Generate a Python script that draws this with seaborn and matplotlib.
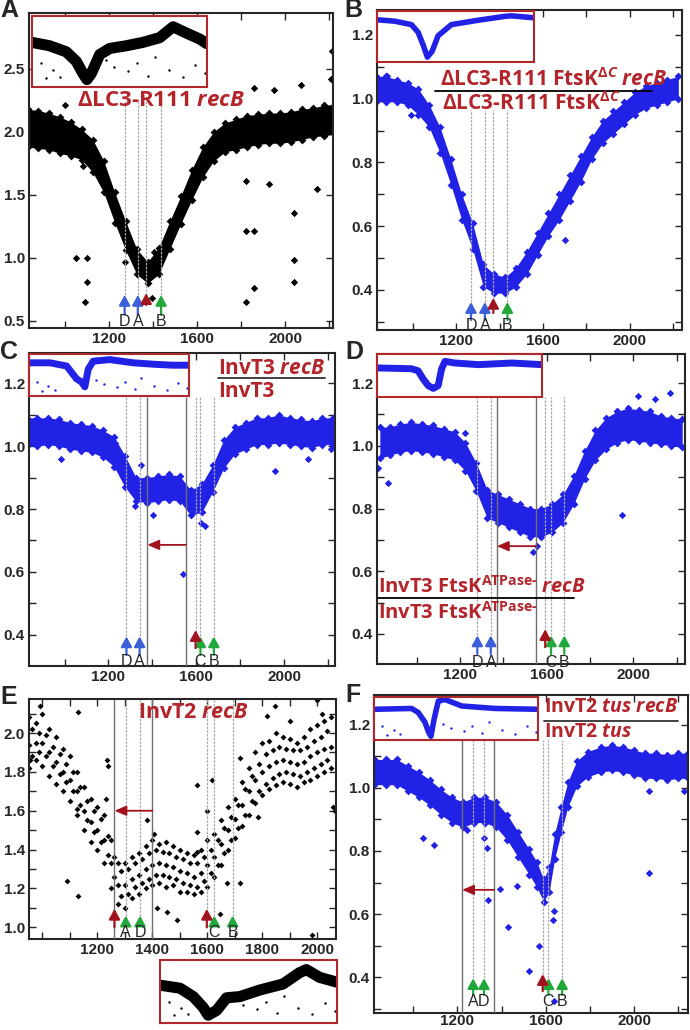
# draws the six recB marker-frequency panels (A-F) and their genome insets

# importing libraries
import matplotlib
matplotlib.use('Agg')
import matplotlib.pyplot as plt
from matplotlib.ticker import MultipleLocator
import seaborn as sns

# ---------------- data ----------------
# shared position grid (kb) for panels A-D
pos_kb = [830, 875, 925, 975, 1025, 1075, 1125, 1175, 1225, 1275, 1325, 1375, 1425, 1475, 1525,
          1575, 1625, 1675, 1725, 1775, 1825, 1875, 1925, 1975, 2025, 2075, 2125, 2175, 2225]

# A: dLC3-R111 recB (upper / lower edge of the dense band)
a_hi = [2.18, 2.17, 2.15, 2.12, 2.08, 2.02, 1.94, 1.77, 1.52, 1.29, 1.07, 0.97, 1.08, 1.29, 1.49,
        1.70, 1.88, 2.00, 2.07, 2.10, 2.13, 2.14, 2.15, 2.15, 2.16, 2.18, 2.19, 2.21, 2.22]
a_lo = [1.88, 1.87, 1.86, 1.83, 1.81, 1.78, 1.68, 1.52, 1.28, 1.06, 0.87, 0.80, 0.87, 1.07, 1.27,
        1.46, 1.64, 1.77, 1.84, 1.86, 1.88, 1.90, 1.91, 1.91, 1.92, 1.94, 1.96, 1.97, 1.98]
a_out_x = [1050, 1098, 1098, 1092, 1823, 1823, 1857, 1857, 1820, 1925, 2042, 2042, 2042, 2147,
           2212, 1857, 1948, 2072, 2210, 1270, 1405, 1395, 1000, 1080]
a_out_y = [1.0, 1.0, 0.81, 0.65, 1.61, 1.21, 1.21, 0.76, 0.65, 1.59, 1.36, 0.98, 0.81, 1.55,
           2.64, 2.35, 2.33, 2.37, 2.42, 0.97, 1.05, 0.68, 2.21, 1.73]

# B: dLC3-R111 FtsKdC recB / dLC3-R111 FtsKdC
b_hi = [1.07, 1.07, 1.06, 1.05, 1.03, 0.98, 0.91, 0.81, 0.70, 0.61, 0.48, 0.45, 0.44, 0.47, 0.52,
        0.58, 0.64, 0.70, 0.76, 0.82, 0.88, 0.93, 0.96, 0.99, 1.02, 1.04, 1.05, 1.06, 1.07]
b_lo = [0.99, 0.99, 0.99, 0.98, 0.95, 0.91, 0.83, 0.73, 0.62, 0.53, 0.41, 0.39, 0.39, 0.41, 0.45,
        0.51, 0.57, 0.62, 0.68, 0.74, 0.81, 0.86, 0.89, 0.92, 0.95, 0.97, 0.98, 0.99, 1.00]
b_out_x = [1702, 1330, 990, 880]
b_out_y = [0.557, 0.46, 0.95, 1.07]

# C: InvT3 recB / InvT3
c_hi = [1.09, 1.09, 1.09, 1.085, 1.075, 1.07, 1.065, 1.05, 1.03, 0.97, 0.90, 0.90, 0.905, 0.91, 0.905,
        0.86, 0.88, 0.94, 1.02, 1.06, 1.075, 1.09, 1.09, 1.10, 1.09, 1.085, 1.08, 1.09, 1.09]
c_lo = [1.00, 1.00, 1.005, 1.00, 0.99, 0.985, 0.98, 0.965, 0.935, 0.87, 0.825, 0.82, 0.825, 0.83, 0.825,
        0.78, 0.79, 0.855, 0.93, 0.975, 0.99, 1.005, 1.005, 1.01, 1.005, 1.00, 0.995, 1.005, 1.005]
c_out_x = [984, 1349, 1319, 1402, 1539, 1623, 1638, 1957, 2109, 2216, 1230]
c_out_y = [0.96, 0.94, 0.81, 0.78, 0.594, 0.755, 0.745, 0.92, 0.96, 0.99, 1.01]

# D: InvT3 FtsK ATPase- recB / InvT3 FtsK ATPase-
d_hi = [1.06, 1.06, 1.07, 1.075, 1.07, 1.065, 1.055, 1.045, 1.01, 0.945, 0.86, 0.845, 0.83, 0.815, 0.80,
        0.80, 0.815, 0.845, 0.905, 0.985, 1.05, 1.09, 1.11, 1.12, 1.115, 1.11, 1.095, 1.09, 1.085]
d_lo = [0.96, 0.97, 0.98, 0.985, 0.98, 0.975, 0.965, 0.955, 0.92, 0.855, 0.77, 0.755, 0.74, 0.725, 0.71,
        0.71, 0.725, 0.755, 0.815, 0.895, 0.955, 0.99, 1.01, 1.02, 1.015, 1.01, 1.005, 1.00, 0.995]
d_out_x = [823, 869, 1946, 1538, 1554, 2023, 2169, 2100, 1225, 1330]
d_out_y = [0.93, 0.88, 0.78, 0.66, 0.68, 1.16, 1.17, 1.15, 1.04, 0.84]

# E: InvT2 recB (sparse cloud: readings at two staggered position sets)
pos_e = [950, 975, 1000, 1025, 1050, 1075, 1100, 1125, 1150, 1175, 1200, 1225, 1250, 1275, 1300,
         1325, 1350, 1375, 1400, 1425, 1450, 1475, 1500, 1525, 1550, 1575, 1600, 1625, 1650, 1675,
         1700, 1725, 1750, 1775, 1800, 1825, 1850, 1875, 1900, 1925, 1950, 1975, 2000, 2025, 2050]
e_hi = [2.08, 2.05, 2.10, 2.02, 1.98, 1.92, 1.88, 1.80, 1.72, 1.66, 1.62, 1.58, 1.45, 1.33, 1.33,
        1.36, 1.38, 1.42, 1.45, 1.43, 1.44, 1.42, 1.40, 1.38, 1.37, 1.40, 1.45, 1.48, 1.55, 1.62,
        1.66, 1.75, 1.82, 1.90, 1.95, 1.96, 2.00, 1.98, 1.97, 1.95, 1.98, 2.02, 2.04, 2.06, 2.08]
e_mid = [1.94, 1.95, 1.95, 1.90, 1.85, 1.80, 1.76, 1.70, 1.60, 1.54, 1.50, 1.45, 1.33, 1.22, 1.22,
         1.25, 1.27, 1.30, 1.32, 1.33, 1.32, 1.31, 1.29, 1.28, 1.26, 1.28, 1.32, 1.36, 1.43, 1.50,
         1.56, 1.63, 1.70, 1.76, 1.80, 1.83, 1.85, 1.86, 1.85, 1.84, 1.85, 1.88, 1.90, 1.92, 1.93]
e_lo = [1.82, 1.86, 1.83, 1.78, 1.74, 1.70, 1.65, 1.58, 1.50, 1.44, 1.40, 1.33, 1.20, 1.12, 1.10,
        1.15, 1.17, 1.20, 1.22, 1.23, 1.21, 1.22, 1.18, 1.18, 1.17, 1.18, 1.21, 1.26, 1.32, 1.40,
        1.46, 1.52, 1.58, 1.64, 1.68, 1.71, 1.73, 1.75, 1.74, 1.72, 1.75, 1.76, 1.78, 1.80, 1.82]
pos_e2 = [962, 987, 1012, 1037, 1062, 1087, 1112, 1137, 1162, 1187, 1212, 1237, 1262, 1287, 1312,
          1337, 1362, 1387, 1412, 1437, 1462, 1487, 1512, 1537, 1562, 1587, 1612, 1637, 1662, 1687,
          1712, 1737, 1762, 1787, 1812, 1837, 1862, 1887, 1912, 1937, 1962, 1987, 2012, 2037]
e2_up = [2.02, 2.00, 1.99, 1.93, 1.89, 1.84, 1.80, 1.72, 1.65, 1.60, 1.56, 1.47, 1.36, 1.29, 1.30,
         1.33, 1.35, 1.38, 1.40, 1.39, 1.38, 1.36, 1.35, 1.33, 1.33, 1.36, 1.40, 1.45, 1.51, 1.57,
         1.63, 1.71, 1.78, 1.84, 1.89, 1.91, 1.93, 1.92, 1.91, 1.91, 1.93, 1.96, 1.98, 2.01]
e2_dn = [1.88, 1.90, 1.88, 1.83, 1.79, 1.75, 1.70, 1.63, 1.55, 1.49, 1.44, 1.37, 1.26, 1.16, 1.17,
         1.21, 1.23, 1.25, 1.27, 1.27, 1.26, 1.25, 1.23, 1.22, 1.21, 1.24, 1.28, 1.32, 1.38, 1.45,
         1.51, 1.58, 1.65, 1.70, 1.74, 1.77, 1.79, 1.80, 1.79, 1.78, 1.80, 1.82, 1.84, 1.86]
e_out_x = [955, 992, 1131, 1125, 1088, 1131, 1234, 1240, 1232, 1379, 1404, 1416, 1452, 1488, 1561,
           1564, 1561, 1618, 1598, 1646, 1670, 1719, 1719, 1816, 1846, 1900, 1979, 1998, 2058, 2064,
           2016, 1785]
e_out_y = [1.86, 2.14, 2.11, 1.61, 1.24, 1.16, 1.86, 1.83, 1.66, 1.55, 1.48, 1.10, 1.08, 1.04, 1.39,
           1.49, 1.73, 1.76, 1.6, 1.07, 1.23, 1.23, 1.87, 2.09, 2.14, 2.06, 0.96, 2.17, 1.62, 1.6,
           2.1, 1.57]

# F: InvT2 tus recB / InvT2 tus
pos_f = [820, 875, 925, 975, 1025, 1075, 1125, 1175, 1225, 1275, 1325, 1375, 1425, 1475, 1525, 1560,
         1590, 1615, 1640, 1670, 1700, 1740, 1790, 1850, 1900, 1950, 2000, 2050, 2100, 2150, 2200, 2245]
f_hi = [1.09, 1.09, 1.09, 1.07, 1.05, 1.025, 0.995, 0.97, 0.955, 0.97, 0.97, 0.955, 0.915, 0.86, 0.805, 0.765,
        0.71, 0.75, 0.855, 0.94, 1.02, 1.085, 1.115, 1.13, 1.135, 1.13, 1.12, 1.11, 1.11, 1.105, 1.11, 1.11]
f_lo = [1.01, 1.01, 1.01, 0.99, 0.97, 0.945, 0.915, 0.89, 0.875, 0.89, 0.89, 0.875, 0.835, 0.78, 0.725, 0.685,
        0.64, 0.67, 0.775, 0.86, 0.94, 1.005, 1.035, 1.05, 1.055, 1.05, 1.04, 1.03, 1.03, 1.025, 1.03, 1.03]
f_out_x = [1045, 1095, 1241, 1320, 1335, 1338, 1391, 1429, 1469, 1526, 1568, 1632, 1635, 1635, 2068, 2068, 2226]
f_out_y = [0.84, 0.82, 0.866, 0.84, 0.81, 0.645, 0.68, 0.56, 0.69, 0.42, 0.50, 0.58, 0.61, 0.326, 0.73, 0.99, 0.99]

# whole-genome insets (position as fraction of the genome, relative ratio)
ins_a_x = [0.0, 0.10, 0.196, 0.253, 0.291, 0.314, 0.339, 0.387, 0.444, 0.539, 0.634, 0.73, 0.806, 0.88, 0.958, 1.0]
ins_a_y = [0.61, 0.56, 0.47, 0.33, 0.15, 0.06, 0.15, 0.43, 0.52, 0.56, 0.61, 0.68, 0.84, 0.75, 0.66, 0.59]
ins_b_x = [0.0, 0.113, 0.219, 0.262, 0.294, 0.321, 0.351, 0.389, 0.474, 0.645, 0.815, 0.857, 1.0]
ins_b_y = [0.82, 0.79, 0.72, 0.56, 0.30, 0.05, 0.17, 0.49, 0.72, 0.81, 0.89, 0.90, 0.86]
ins_c_x = [0.0, 0.131, 0.235, 0.266, 0.297, 0.328, 0.349, 0.37, 0.401, 0.505, 0.651, 0.796, 0.9, 1.0]
ins_c_y = [0.78, 0.78, 0.70, 0.54, 0.38, 0.30, 0.18, 0.62, 0.82, 0.86, 0.78, 0.74, 0.72, 0.72]
ins_d_x = [0.0, 0.209, 0.249, 0.28, 0.31, 0.341, 0.371, 0.391, 0.412, 0.473, 0.615, 0.817, 1.0]
ins_d_y = [0.66, 0.64, 0.59, 0.39, 0.23, 0.16, 0.23, 0.63, 0.82, 0.78, 0.74, 0.78, 0.74]
ins_e_x = [0.0, 0.113, 0.188, 0.244, 0.272, 0.32, 0.376, 0.451, 0.564, 0.695, 0.789, 0.827, 0.902, 1.0]
ins_e_y = [0.58, 0.53, 0.39, 0.21, 0.08, 0.16, 0.37, 0.39, 0.5, 0.6, 0.79, 0.84, 0.71, 0.63]
ins_f_x = [0.0, 0.229, 0.269, 0.31, 0.335, 0.347, 0.367, 0.392, 0.433, 0.535, 0.739, 1.0]
ins_f_y = [0.70, 0.72, 0.625, 0.39, 0.12, 0.04, 0.47, 0.90, 0.94, 0.78, 0.72, 0.70]
# stray points under the inset bands
ins_out_x = [0.05, 0.08, 0.12, 0.16, 0.42, 0.47, 0.55, 0.6, 0.66, 0.7, 0.78, 0.86, 0.93, 0.99]
ins_out_y = [0.30, 0.08, 0.20, 0.10, 0.35, 0.25, 0.18, 0.30, 0.12, 0.40, 0.20, 0.10, 0.28, 0.15]

# tick labels
x_ticks = [1200, 1600, 2000]
x_ticks_e = [1200, 1400, 1600, 1800, 2000]
y_ticks_a = [0.5, 1.0, 1.5, 2.0, 2.5]
y_ticks_ratio = [0.4, 0.6, 0.8, 1.0, 1.2]
y_ticks_e = [1.0, 1.2, 1.4, 1.6, 1.8, 2.0]

# ---------------- style ----------------
sns.set_style('ticks')
plt.rcParams['font.family'] = ['Liberation Sans', 'DejaVu Sans']
plt.rcParams['mathtext.fontset'] = 'custom'
plt.rcParams['mathtext.rm'] = 'Open Sans:bold'
plt.rcParams['mathtext.it'] = 'Open Sans:italic:bold'
plt.rcParams['mathtext.bf'] = 'Open Sans:bold'

RED_TXT = '#b3242b'
FRAME_RED = '#b0282c'
BLUE_PTS = '#2222e6'
ARROW_BLUE = '#3a5fd8'
ARROW_RED = '#a3131f'
ARROW_GREEN = '#22a83a'
LINE_DOT = '#a8a8a8'
LINE_SOLID = '#6e6e6e'

W, H = 690, 1030
fig = plt.figure(figsize=(W / 100, H / 100), dpi=100)


# adds axes from pixel box (left, top, right, bottom)
def px_axes(x0, y0, x1, y1):
    return fig.add_axes([x0 / W, 1 - y1 / H, (x1 - x0) / W, (y1 - y0) / H])


# figure text at pixel position
def px_text(x, y, s, **kw):
    fig.text(x / W, 1 - y / H, s, **kw)


# red strain title (Open Sans bold)
def title_text(x, y, s, size, ha='left'):
    px_text(x, y, s, color=RED_TXT, fontsize=size, family='Open Sans', fontweight='bold',
            ha=ha, va='center', zorder=10)


# horizontal fraction bar at pixel position
def px_hline(x0, x1, y, color='black'):
    fig.add_artist(plt.Line2D([x0 / W, x1 / W], [1 - y / H, 1 - y / H],
                              transform=fig.transFigure, color=color, lw=1.3))


# tick / spine formatting of a main panel
def style_axes(ax, xlim, ylim, xt, xminor, yt, yminor, pad=3):
    ax.set_xlim(xlim)
    ax.set_ylim(ylim)
    ax.set_xticks(xt, [str(v) for v in xt], fontweight='bold', fontsize=11)
    ax.set_yticks(yt, [f'{v:.1f}' for v in yt], fontweight='bold', fontsize=11)
    ax.xaxis.set_minor_locator(MultipleLocator(xminor))
    if yminor is not None:
        ax.yaxis.set_minor_locator(MultipleLocator(yminor))
    ax.tick_params(which='both', direction='in', top=True, right=True, length=5, width=1, pad=3)
    ax.tick_params(axis='x', pad=pad)
    ax.set_xlabel('')
    ax.set_ylabel('')
    for s in ax.spines.values():
        s.set_linewidth(1.5)


# dense band of points: filled between lower and upper edges
def draw_band(ax, pos, lo, hi, out_x, out_y, color):
    ax.fill_between(pos, lo, hi, color=color, lw=0, zorder=1)
    sns.scatterplot(x=pos, y=lo, ax=ax, color=color, marker='D', s=16, linewidth=0, zorder=2)
    sns.scatterplot(x=pos, y=hi, ax=ax, color=color, marker='D', s=16, linewidth=0, zorder=2)
    sns.scatterplot(x=out_x, y=out_y, ax=ax, color=color, marker='D', s=14, linewidth=0, zorder=2)


# whole-genome inset with red frame
def draw_inset(box, xs, ys, color, lw, strays=True):
    ax = px_axes(*box)
    sns.lineplot(x=xs, y=ys, ax=ax, color=color, lw=lw)
    if strays:
        sns.scatterplot(x=ins_out_x, y=ins_out_y, ax=ax, color=color, s=3, linewidth=0)
    ax.set_xlim(0, 1)
    ax.set_ylim(-0.05, 1.0)
    ax.set_xticks([])
    ax.set_yticks([])
    ax.set_facecolor('white')
    for s in ax.spines.values():
        s.set_color(FRAME_RED)
        s.set_linewidth(1.5)
    return ax


# vertical arrow (site marker)
def up_arrow(ax, x, y0, y1, color):
    ax.annotate('', xy=(x, y1), xytext=(x, y0),
                arrowprops=dict(arrowstyle='-|>,head_width=0.3,head_length=0.55', color=color,
                                lw=1.6, mutation_scale=11, shrinkA=0, shrinkB=0), zorder=5)


# horizontal arrow (inversion)
def left_arrow(ax, x0, x1, y):
    ax.annotate('', xy=(x1, y), xytext=(x0, y),
                arrowprops=dict(arrowstyle='-|>,head_width=0.3,head_length=0.7', color=ARROW_RED,
                                lw=1.3, mutation_scale=10, shrinkA=0, shrinkB=0), zorder=5)


# site lines, arrows and letters
def draw_sites(ax, sx, labs, cols, tail, tip, lab_y, line_top, dif_x, dif_tail, dif_tip):
    ax.vlines(sx + [dif_x], tip, line_top, colors=LINE_DOT, lw=0.9, linestyles=(0, (2, 1)), zorder=3)
    for x, lab, c in zip(sx, labs, cols):
        up_arrow(ax, x, tail, tip, c)
        ax.text(x, lab_y, lab, ha='center', va='center', fontsize=11.5, zorder=6)
    up_arrow(ax, dif_x, dif_tail, dif_tip, ARROW_RED)


# ---------------- panel A ----------------
ax_a = px_axes(29, 13, 333, 328)
draw_band(ax_a, pos_kb, a_lo, a_hi, a_out_x, a_out_y, 'black')
style_axes(ax_a, (835, 2218), (0.444, 2.944), x_ticks, 200, y_ticks_a, None)
draw_sites(ax_a, [1270, 1330, 1436], ['D', 'A', 'B'], [ARROW_BLUE, ARROW_BLUE, ARROW_GREEN],
           0.548, 0.706, 0.495, 2.25, 1368, 0.627, 0.72)
draw_inset((32, 16, 207, 87), ins_a_x, ins_a_y, 'black', 8)
title_text(161, 100, 'ΔLC3-R111 $\\mathit{recB}$', 16, ha='center')

# ---------------- panel B ----------------
ax_b = px_axes(377, 10, 682, 330)
draw_band(ax_b, pos_kb, b_lo, b_hi, b_out_x, b_out_y, BLUE_PTS)
style_axes(ax_b, (834, 2242), (0.2745, 1.278), x_ticks, 200, y_ticks_ratio, 0.1)
draw_sites(ax_b, [1268, 1332, 1436], ['D', 'A', 'B'], [ARROW_BLUE, ARROW_BLUE, ARROW_GREEN],
           0.306, 0.362, 0.29, 0.965, 1371, 0.328, 0.375)
draw_inset((377, 11, 534, 62), ins_b_x, ins_b_y, BLUE_PTS, 4, strays=False)
title_text(440, 80, 'ΔLC3-R111 FtsK$^{\\Delta C}$ $\\mathit{recB}$', 15)
px_hline(435, 652, 91)
title_text(442, 104, 'ΔLC3-R111 FtsK$^{\\Delta C}$', 15)

# ---------------- panel C ----------------
ax_c = px_axes(29, 353, 335, 666)
draw_band(ax_c, pos_kb, c_lo, c_hi, c_out_x, c_out_y, BLUE_PTS)
style_axes(ax_c, (838, 2232), (0.301, 1.296), x_ticks, 200, y_ticks_ratio, 0.1)
ax_c.vlines([1377, 1552], 0.301, 1.156, colors=LINE_SOLID, lw=1.0, zorder=3)
draw_sites(ax_c, [1282, 1342, 1619, 1680], ['D', 'A', 'C', 'B'],
           [ARROW_BLUE, ARROW_BLUE, ARROW_GREEN, ARROW_GREEN], 0.336, 0.395, 0.315, 1.156,
           1597, 0.358, 0.415)
left_arrow(ax_c, 1552, 1377, 0.686)
draw_inset((29, 354, 189, 396), ins_c_x, ins_c_y, BLUE_PTS, 5)
title_text(218, 369, 'InvT3 $\\mathit{recB}$', 15)
px_hline(218, 325, 378, color='#333333')
title_text(218, 392, 'InvT3', 15)

# ---------------- panel D ----------------
ax_d = px_axes(377, 354, 685, 664)
draw_band(ax_d, pos_kb, d_lo, d_hi, d_out_x, d_out_y, BLUE_PTS)
style_axes(ax_d, (817, 2238), (0.304, 1.293), x_ticks, 200, y_ticks_ratio, 0.1)
ax_d.vlines([1370, 1550], 0.304, 1.156, colors=LINE_SOLID, lw=1.0, zorder=3)
draw_sites(ax_d, [1280, 1342, 1620, 1681], ['D', 'A', 'C', 'B'],
           [ARROW_BLUE, ARROW_BLUE, ARROW_GREEN, ARROW_GREEN], 0.336, 0.395, 0.31, 1.156,
           1593, 0.358, 0.415)
left_arrow(ax_d, 1550, 1370, 0.68)
draw_inset((377, 354, 542, 397), ins_d_x, ins_d_y, BLUE_PTS, 5, strays=False)
title_text(378, 587, 'InvT3 FtsK$^{\\text{ATPase-}}$ $\\mathit{recB}$', 14.5)
px_hline(378, 574, 598)
title_text(378, 613, 'InvT3 FtsK$^{\\text{ATPase-}}$', 14.5)

# ---------------- panel E ----------------
ax_e = px_axes(29, 699, 336, 939)
for ys in [e_hi, e_mid, e_lo]:
    sns.scatterplot(x=pos_e, y=ys, ax=ax_e, color='black', marker='D', s=9, linewidth=0)
for ys in [e2_up, e2_dn]:
    sns.scatterplot(x=pos_e2, y=ys, ax=ax_e, color='black', marker='D', s=9, linewidth=0)
sns.scatterplot(x=e_out_x, y=e_out_y, ax=ax_e, color='black', marker='D', s=9, linewidth=0)
style_axes(ax_e, (951, 2068), (0.94, 2.175), x_ticks_e, 100, y_ticks_e, 0.1)
ax_e.vlines([1262, 1400], 0.94, 2.175, colors=LINE_SOLID, lw=1.0, zorder=3)
draw_sites(ax_e, [1303, 1355, 1625, 1692], ['A', 'D', 'C', 'B'], [ARROW_GREEN] * 4,
           1.017, 1.06, 0.975, 2.175, 1598, 1.0, 1.095)
up_arrow(ax_e, 1262, 1.0, 1.095, ARROW_RED)
left_arrow(ax_e, 1400, 1262, 1.6)
draw_inset((160, 960, 337, 1023), ins_e_x, ins_e_y, 'black', 8)
title_text(193, 713, 'InvT2 $\\mathit{recB}$', 15.5, ha='center')

# ---------------- panel F ----------------
ax_f = px_axes(374, 695, 688, 1013)
draw_band(ax_f, pos_f, f_lo, f_hi, f_out_x, f_out_y, BLUE_PTS)
style_axes(ax_f, (822, 2244), (0.287, 1.294), x_ticks, 200, y_ticks_ratio, 0.1, pad=1)
ax_f.vlines([1221, 1365], 0.287, 1.153, colors=LINE_SOLID, lw=1.0, zorder=3)
draw_sites(ax_f, [1271, 1320, 1612, 1674], ['A', 'D', 'C', 'B'], [ARROW_GREEN] * 4,
           0.344, 0.397, 0.325, 1.153, 1586, 0.356, 0.41)
left_arrow(ax_f, 1365, 1221, 0.677)
draw_inset((374, 697, 538, 740), ins_f_x, ins_f_y, BLUE_PTS, 4)
title_text(544, 707, 'InvT2 $\\mathit{tus}$ $\\mathit{recB}$', 14)
px_hline(544, 678, 721, color='#333333')
title_text(544, 732, 'InvT2 $\\mathit{tus}$', 14)

# ---------------- panel letters ----------------
for lab, (x, y) in zip('ABCDEF', [(9, 10), (353, 10), (9, 352), (354, 352), (9, 697), (353, 695)]):
    px_text(x, y, lab, fontsize=18, fontweight='bold', ha='center', va='center')

fig.savefig('out.png', dpi=100)
